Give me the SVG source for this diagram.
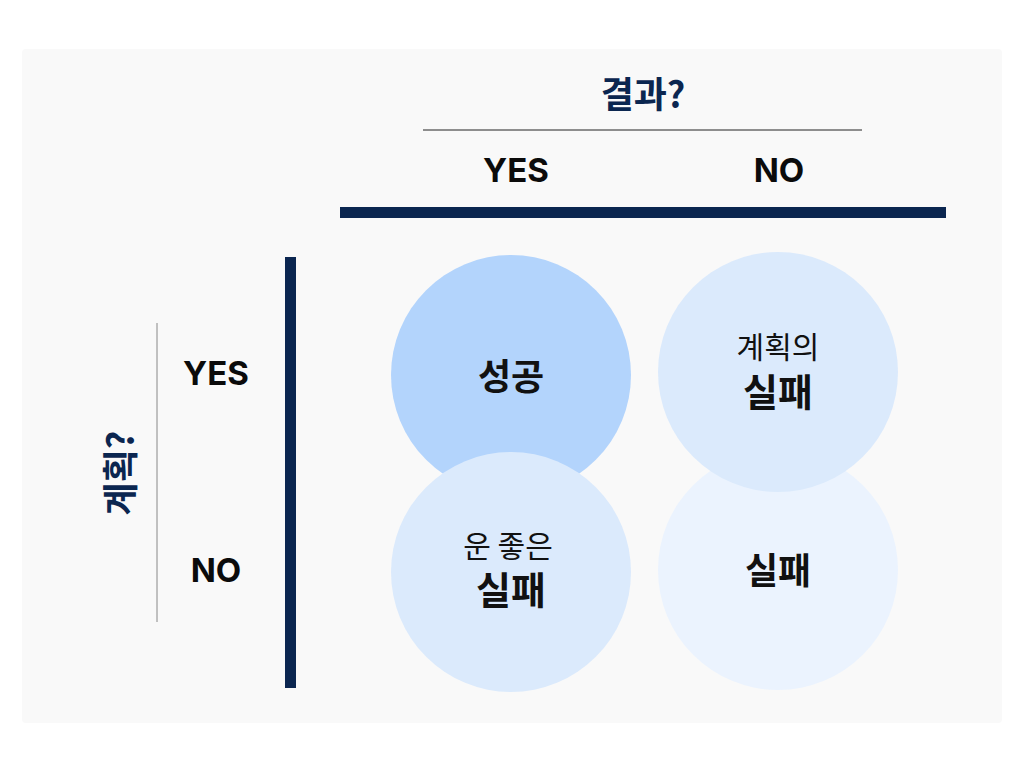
<svg xmlns="http://www.w3.org/2000/svg" width="1024" height="768" viewBox="0 0 1024 768">
<style>
.t{font-family:Inter,"Noto Sans CJK KR",sans-serif;text-anchor:middle;dominant-baseline:central}
.h{font-weight:700;font-size:33px;fill:#0b0b0b}
.k{font-family:"Noto Sans CJK KR",sans-serif;text-anchor:middle;dominant-baseline:central}
.nv{fill:#0b2650}
</style>
<rect width="1024" height="768" fill="#fff"/>
<rect x="22" y="49" width="980" height="674" rx="4" fill="#f9f9f9"/>
<g id="header">
<text class="k nv" x="643" y="92" font-size="36" font-weight="700">결과?</text>
<line x1="423" y1="130" x2="862" y2="130" stroke="#222" stroke-width="1"/>
<text class="t h" x="516" y="170">YES</text>
<text class="t h" x="779" y="170">NO</text>
<rect x="340" y="207" width="606" height="11" class="nv"/>
</g>
<g id="side">
<rect x="285" y="257" width="11" height="431" class="nv"/>
<line x1="157" y1="323" x2="157" y2="622" stroke="#888" stroke-width="1"/>
<text class="k nv" x="0" y="0" font-size="36" font-weight="700" transform="translate(118,473) rotate(-90)">계획?</text>
<text class="t h" x="216" y="373">YES</text>
<text class="t h" x="216" y="570">NO</text>
</g>
<g id="n-success"><circle cx="511" cy="375" r="120" fill="#b3d4fc"/></g>
<g id="n-fail"><circle cx="778" cy="570" r="120" fill="#ebf3fe"/>
<text class="k" x="778" y="568" font-size="36" font-weight="700" fill="#111">실패</text></g>
<g id="n-plan"><circle cx="778" cy="372" r="120" fill="#dbeafc"/>
<text class="k" x="778" y="345" font-size="30" fill="#111">계획의</text>
<text class="k" x="778" y="389" font-size="38" font-weight="700" fill="#111">실패</text></g>
<g id="n-lucky"><circle cx="511" cy="572" r="120" fill="#dbeafc"/>
<text class="k" x="508" y="544" font-size="30" fill="#111">운 좋은</text>
<text class="k" x="511" y="587" font-size="38" font-weight="700" fill="#111">실패</text></g>
<text class="k" x="511" y="374" font-size="36" font-weight="700" fill="#111">성공</text>
<g id="connectors"/>
</svg>
